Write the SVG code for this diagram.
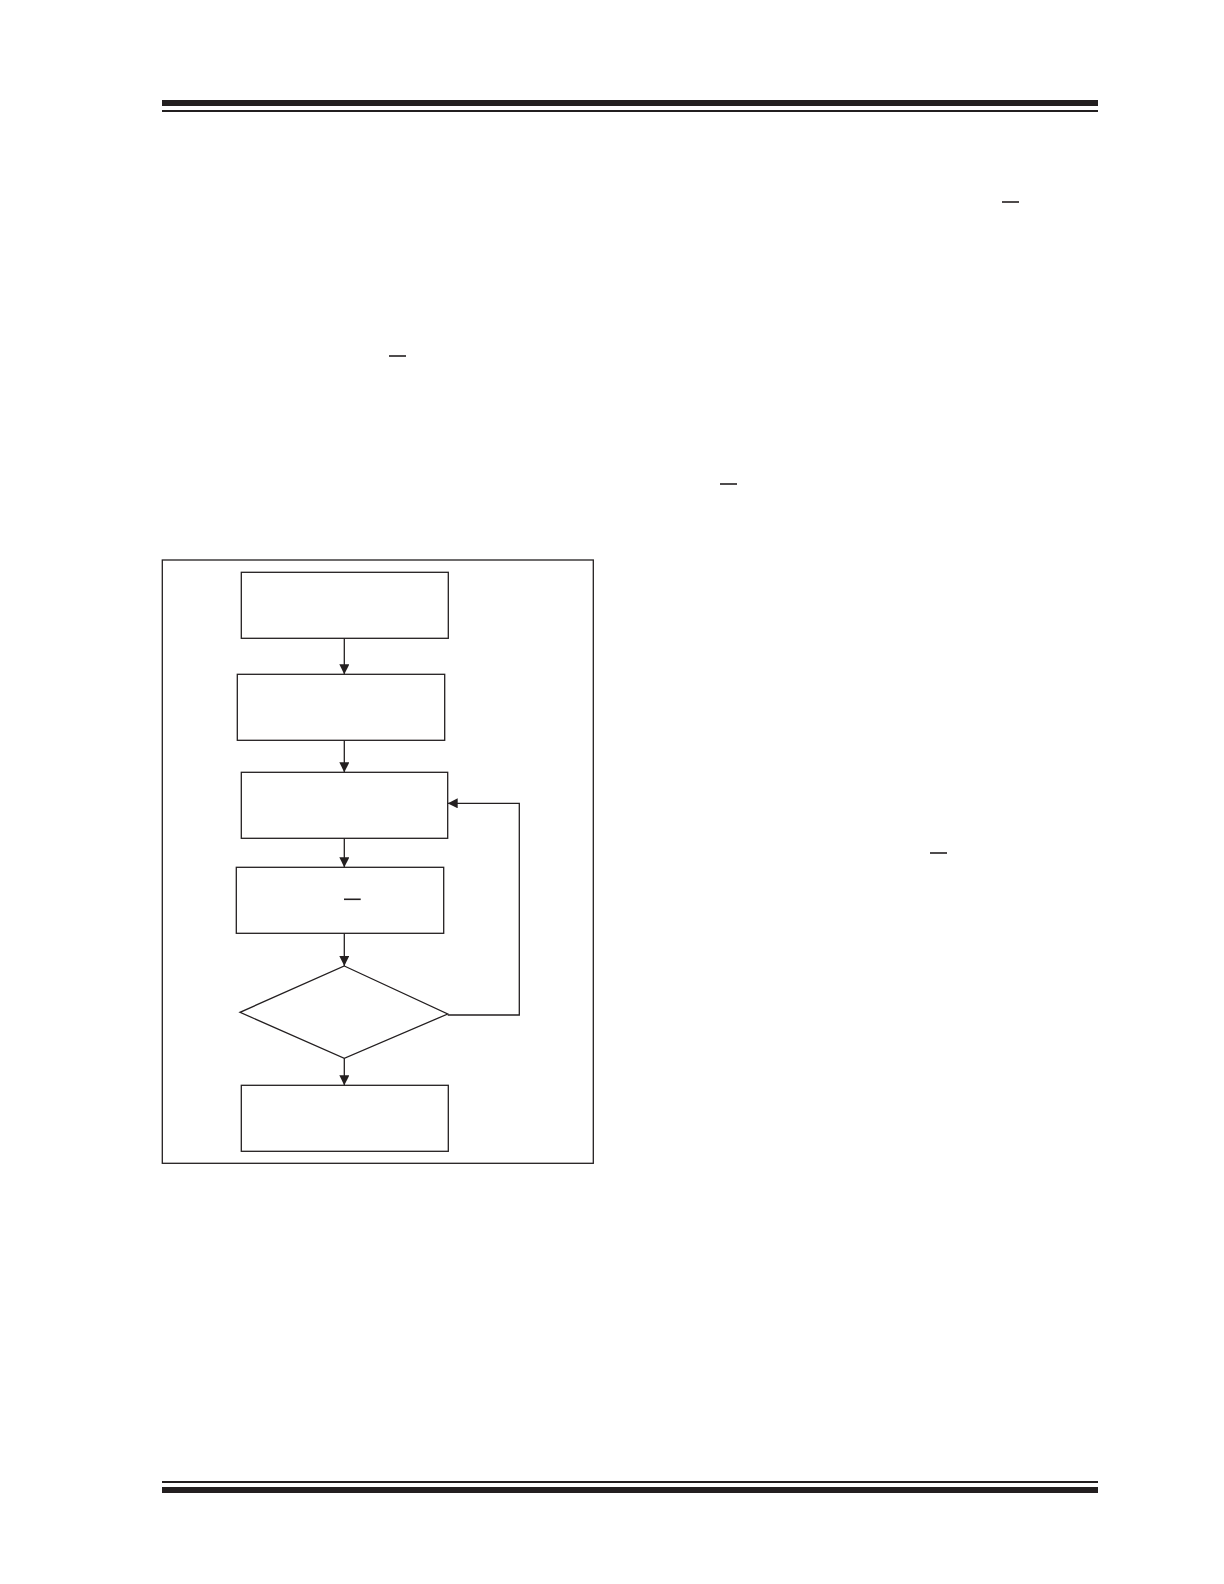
<svg xmlns="http://www.w3.org/2000/svg" width="1224" height="1584" viewBox="0 0 1224 1584">
<style>
.box{fill:none;stroke:#231f20;stroke-width:1.3}
.conn{fill:none;stroke:#231f20;stroke-width:1.3}
.bar{fill:#231f20}
.ov{stroke:#231f20;stroke-width:1.6}
</style>
<defs>
<marker id="arr" viewBox="0 0 10 10" refX="10" refY="5" markerWidth="10" markerHeight="10" markerUnits="userSpaceOnUse" orient="auto">
<path d="M0,0 L10,5 L0,10 z" fill="#231f20"/>
</marker>
</defs>
<rect width="1224" height="1584" fill="#fff"/>
<g id="header">
<rect class="bar" x="162" y="100" width="936" height="6"/>
<rect class="bar" x="162" y="110" width="936" height="2"/>
</g>
<g id="footer">
<rect class="bar" x="162" y="1481" width="936" height="2"/>
<rect class="bar" x="162" y="1487" width="936" height="6"/>
</g>
<g id="overbars">
<line class="ov" x1="1002" y1="202" x2="1019" y2="202"/>
<line class="ov" x1="389" y1="356" x2="406" y2="356"/>
<line class="ov" x1="720" y1="484" x2="737" y2="484"/>
<line class="ov" x1="930" y1="853" x2="947" y2="853"/>
</g>
<g id="frame"><rect class="box" x="162.3" y="560" width="431" height="603.3"/></g>
<g id="n1"><rect class="box" x="241.3" y="572.3" width="207" height="66"/></g>
<g id="n2"><rect class="box" x="237.3" y="674.3" width="207.4" height="66"/></g>
<g id="n3"><rect class="box" x="241.3" y="772.3" width="206.4" height="66"/></g>
<g id="n4"><rect class="box" x="236.3" y="867.3" width="207.4" height="66"/>
<line class="ov" x1="344" y1="899.3" x2="360.7" y2="899.3"/></g>
<g id="n5"><polygon class="box" points="344.3,966 447.7,1014 344.3,1058.3 240,1012.3"/></g>
<g id="n6"><rect class="box" x="241.3" y="1085.3" width="207" height="66"/></g>
<g id="connectors">
<line class="conn" x1="344.3" y1="638.3" x2="344.3" y2="674.3" marker-end="url(#arr)"/>
<line class="conn" x1="344.3" y1="740.3" x2="344.3" y2="772.3" marker-end="url(#arr)"/>
<line class="conn" x1="344.3" y1="838.3" x2="344.3" y2="867.3" marker-end="url(#arr)"/>
<line class="conn" x1="344.3" y1="933.3" x2="344.3" y2="966" marker-end="url(#arr)"/>
<line class="conn" x1="344.3" y1="1058.3" x2="344.3" y2="1085.3" marker-end="url(#arr)"/>
<polyline class="conn" points="447.7,1015 519.3,1015 519.3,803.3 447.7,803.3" marker-end="url(#arr)"/>
</g>
</svg>
